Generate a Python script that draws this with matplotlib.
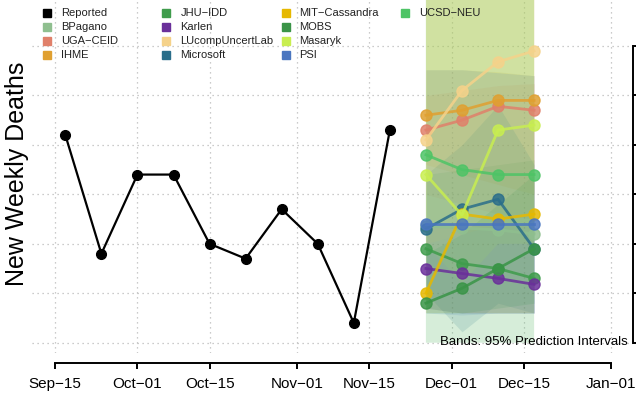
import numpy as np
import pandas as pd
import matplotlib
matplotlib.use('Agg')
import matplotlib.pyplot as plt
import matplotlib.dates as mdates
from matplotlib.ticker import FuncFormatter

plt.rcParams['font.family'] = ['Liberation Sans', 'DejaVu Sans']

# observed weekly deaths
reportedDates = pd.date_range('2020-09-17', periods=10, freq='7D')
reported = [210, 90, 170, 170, 100, 85, 135, 100, 20, 215]

# forecasts: 4 weeks ahead
forecastDates = pd.date_range('2020-11-26', periods=4, freq='7D')
modelNames = ['BPagano', 'UGA−CEID', 'IHME', 'JHU−IDD', 'Karlen', 'LUcompUncertLab',
              'Microsoft', 'MIT−Cassandra', 'MOBS', 'Masaryk', 'PSI', 'UCSD−NEU']
modelColors = ['#8fbf8f', '#e0806a', '#e0a030', '#3f9c4c', '#6a2f9a', '#f5d28a',
               '#2a6e8a', '#e6b800', '#3a9447', '#c8ee50', '#4a76c0', '#4ec466']
medians = [
    [118, 116, 114, 110],
    [215, 225, 239, 235],
    [230, 235, 245, 245],
    [95, 80, 75, 65],
    [75, 70, 65, 59],
    [205, 255, 284, 295],
    [115, 135, 145, 95],
    [50, 130, 125, 130],
    [40, 55, 75, 95],
    [170, 129, 215, 220],
    [120, 120, 120, 120],
    [190, 175, 170, 170],
]
# 95% prediction intervals
lowers = [
    [0, 0, 0, 0],
    [150, 140, 130, 125],
    [180, 170, 160, 150],
    [35, 30, 30, 30],
    [35, 30, 30, 30],
    [100, 110, 120, 120],
    [50, 11, 40, 30],
    [30, 30, 30, 30],
    [30, 30, 35, 40],
    [100, 60, 100, 100],
    [30, 28, 30, 30],
    [0, 0, 0, 0],
]
uppers = [
    [420, 430, 440, 450],
    [250, 255, 260, 262],
    [276, 276, 274, 270],
    [170, 175, 180, 185],
    [120, 120, 120, 120],
    [420, 440, 460, 480],
    [170, 200, 240, 180],
    [400, 420, 440, 460],
    [90, 110, 140, 170],
    [400, 420, 440, 460],
    [276, 276, 273, 270],
    [400, 410, 420, 430],
]

fig = plt.figure(figsize=(6.36, 3.93), dpi=100)
ax = fig.add_axes([32 / 636, 40 / 393, 601 / 636, 353 / 393])

# bands first, then lines on top
for i in range(len(modelNames)):
    ax.fill_between(forecastDates, lowers[i], uppers[i], color=modelColors[i],
                    alpha=0.15, linewidth=0, zorder=2)
for i in range(len(modelNames)):
    ax.plot(forecastDates, medians[i], color=modelColors[i], lw=2, alpha=0.85,
            marker='o', ms=8, zorder=3)

ax.plot(reportedDates, reported, color='black', lw=1.6, marker='o', ms=7, zorder=4)

start = pd.Timestamp('2020-09-15')
ax.set_xlim(start - pd.Timedelta(hours=4.47 * 24), start + pd.Timedelta(hours=112.2 * 24))
ax.set_ylim(-10.4, 346.5)

ax.xaxis.set_major_locator(mdates.DayLocator(bymonthday=[1, 15]))
ax.xaxis.set_major_formatter(FuncFormatter(
    lambda x, pos: mdates.num2date(x).strftime('%b') + '−' + mdates.num2date(x).strftime('%d')))
ax.set_yticks([0, 50, 100, 150, 200, 250, 300])

ax.grid(True, linestyle=(0, (1, 3)), color='#bbbbbb', linewidth=0.9, zorder=0)
ax.set_axisbelow(True)

for s in ['top', 'left']:
    ax.spines[s].set_visible(False)
ax.spines['bottom'].set_position(('outward', 7.2))
ax.spines['bottom'].set_bounds(mdates.date2num(start), mdates.date2num(pd.Timestamp('2021-01-01')))
ax.spines['bottom'].set_linewidth(1.4)
ax.spines['right'].set_bounds(0, 300)
ax.spines['right'].set_linewidth(1.4)
ax.tick_params(axis='x', direction='out', length=4, width=1.4, labelsize=11, pad=6)
ax.tick_params(axis='y', left=False, labelleft=False, right=True, labelright=False,
               direction='out', length=5, width=1.4)

# overlay for legend and labels in pixel units
over = fig.add_axes([0, 0, 1, 1], zorder=10)
over.set_xlim(0, 636)
over.set_ylim(393, 0)
over.axis('off')

legendNames = ['Reported'] + modelNames
legendColors = ['black'] + modelColors
for i in range(len(legendNames)):
    col, row = i // 4, i % 4
    mx = 47 + 119.3 * col
    my = 13.3 + 13.9 * row
    over.plot([mx], [my], marker='s', ms=6, color=legendColors[i], linestyle='none')
    over.text(mx + 14, my, legendNames[i], fontsize=8, va='center', ha='left', color='#222222')

over.text(628, 342, 'Bands: 95% Prediction Intervals', fontsize=9.5, ha='right', va='center')
over.text(17, 174, 'New Weekly Deaths', fontsize=18, rotation=90, ha='center', va='center')

fig.savefig('out.png', dpi=100)
